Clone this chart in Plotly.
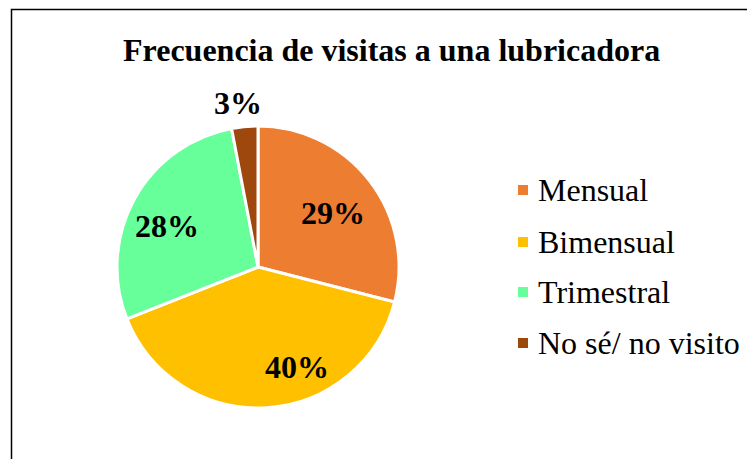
import plotly.graph_objects as go

categories = ["Mensual", "Bimensual", "Trimestral", "No sé/ no visito"]
values = [29, 40, 28, 3]
colors = ["#ED7D31", "#FFC000", "#66FF99", "#9E480E"]
title_text = "Frecuencia de visitas a una lubricadora"

# page is offset by the 8px body margin
OFF = 8
W, H = 755 - OFF, 459 - OFF


def px(x):
    return (x - OFF) / W


def py(y):
    return 1 - (y - OFF) / H


cx, cy, r = 258, 267, 141
FONT = "Liberation Serif"

fig = go.Figure()
fig.add_trace(go.Pie(
    labels=categories,
    values=values,
    sort=False,
    direction="clockwise",
    rotation=0,
    marker=dict(colors=colors, line=dict(color="white", width=3)),
    textinfo="none",
    showlegend=False,
    hoverinfo="label+percent",
    domain=dict(x=[px(cx - r), px(cx + r)], y=[py(cy + r), py(cy - r)]),
))

# data label anchor positions (page pixels), one per slice
label_pos = [(333, 213), (297, 367), (167, 226), (238, 103)]

total = sum(values)
shapes = [dict(type="rect", xref="paper", yref="paper",
               x0=px(11.5), x1=1.05, y0=-0.1, y1=py(9.5),
               line=dict(color="black", width=1.5), fillcolor="rgba(0,0,0,0)")]
annotations = [dict(text=title_text, xref="paper", yref="paper", x=px(391), y=py(50),
                    xanchor="center", yanchor="middle", showarrow=False,
                    font=dict(family=FONT, size=32, color="black", weight="bold"))]
for v, (lx, ly) in zip(values, label_pos):
    annotations.append(dict(text=f"{round(v / total * 100)}%", xref="paper", yref="paper",
                            x=px(lx), y=py(ly), xanchor="center", yanchor="middle",
                            showarrow=False,
                            font=dict(family=FONT, size=32, color="black", weight="bold")))

leg_y = [190, 242, 292, 343]
for cat, col, yy in zip(categories, colors, leg_y):
    shapes.append(dict(type="rect", xref="paper", yref="paper",
                       x0=px(518), x1=px(528), y0=py(yy + 5), y1=py(yy - 5),
                       line=dict(width=0), fillcolor=col))
    annotations.append(dict(text=cat, xref="paper", yref="paper", x=px(536), y=py(yy),
                            xanchor="left", yanchor="middle", showarrow=False,
                            font=dict(family=FONT, size=32, color="black")))

fig.update_layout(
    width=W, height=H,
    margin=dict(l=0, r=0, t=0, b=0),
    paper_bgcolor="white", plot_bgcolor="white",
    shapes=shapes, annotations=annotations,
)
fig.write_html("out.html")
